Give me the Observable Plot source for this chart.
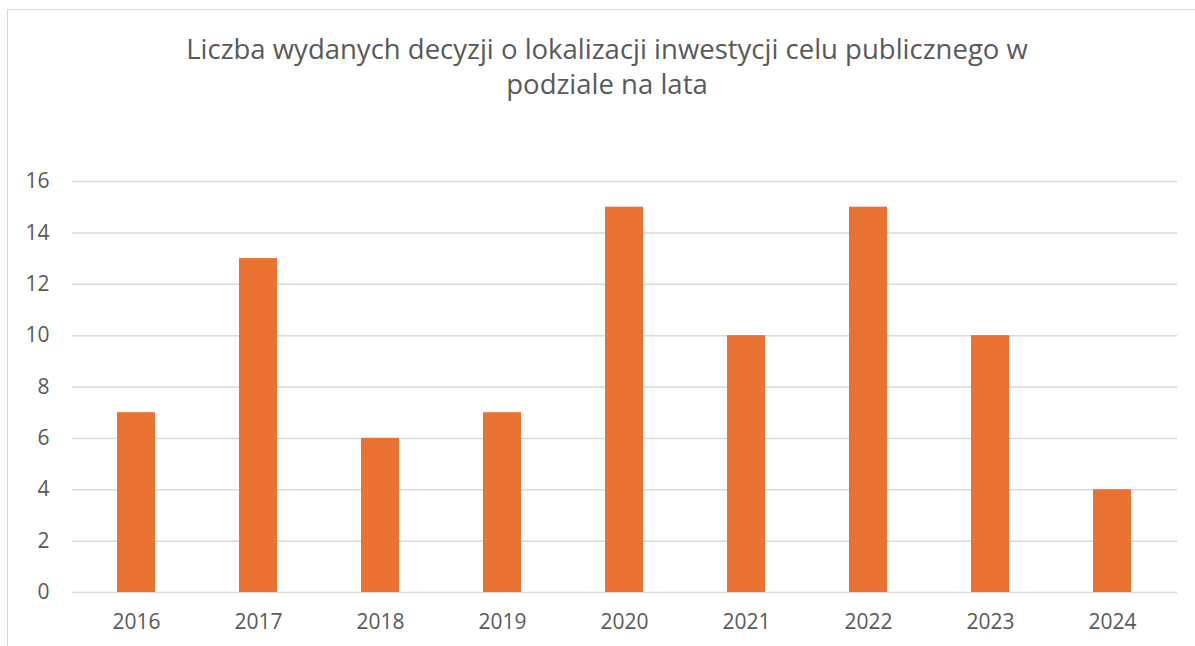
<!DOCTYPE html>
<html>
<head>
<meta charset="utf-8">
<script src="https://cdn.jsdelivr.net/npm/d3@7"></script>
<script src="https://cdn.jsdelivr.net/npm/@observablehq/plot@0.6"></script>
<style>
  html, body { margin: 0; padding: 0; background: #fff; overflow: hidden; }
  #wrap { position: relative; width: 1195px; height: 646px; font-family: "Open Sans", sans-serif; }
  #frame { position: absolute; left: 7px; top: 9px; width: 1210px; height: 660px; border: 1.5px solid #d9d9d9; box-sizing: border-box; }
  #title { position: absolute; left: 7px; width: 1200px; top: 31px; text-align: center; font-size: 27.5px; line-height: 35px; color: #595959; }
  #chart { position: absolute; left: 0; top: 0; }
</style>
</head>
<body>
<div id="wrap">
  <div id="frame"></div>
  <div id="title">Liczba wydanych decyzji o lokalizacji inwestycji celu publicznego w<br>podziale na lata</div>
  <div id="chart"></div>
</div>
<script>
const years = ["2016", "2017", "2018", "2019", "2020", "2021", "2022", "2023", "2024"];
const counts = [7, 13, 6, 7, 15, 10, 15, 10, 4];
const yTicks = [0, 2, 4, 6, 8, 10, 12, 14, 16];

const data = years.map((y, i) => ({year: y, value: counts[i]}));

const chart = Plot.plot({
  width: 1195,
  height: 646,
  marginLeft: 72,
  marginRight: 18,
  marginTop: 181,
  marginBottom: 54,
  style: {fontFamily: "'Open Sans', sans-serif", fontSize: "21px", color: "#595959", background: "transparent"},
  x: {domain: years, paddingInner: 0.6875, paddingOuter: 0.34375, label: null},
  y: {domain: [0, 16], label: null},
  marks: [
    Plot.gridY(yTicks, {stroke: "#d9d9d9", strokeWidth: 1.5, strokeOpacity: 1}),
    Plot.barY(data, {x: "year", y: "value", fill: "#E97132"}),
    Plot.axisY(yTicks, {tickSize: 0, tickPadding: 23, fill: "#595959", fontSize: 21}),
    Plot.axisX({tickSize: 0, tickPadding: 22, fill: "#595959", fontSize: 21})
  ]
});
document.getElementById("chart").appendChild(chart);
</script>
</body>
</html>
